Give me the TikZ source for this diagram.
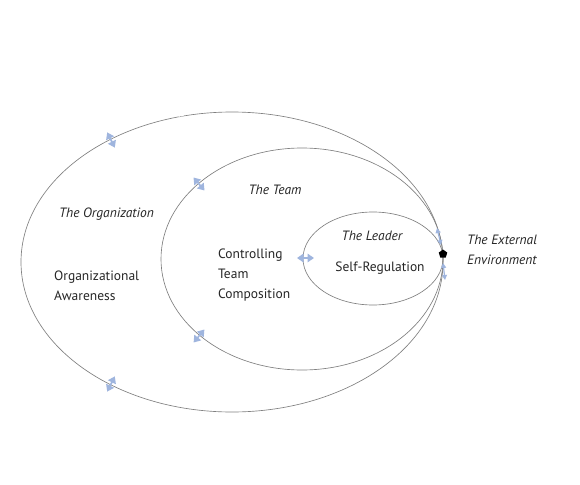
\documentclass[tikz,border=0pt]{standalone}
\usepackage{fontspec}
\setmainfont{PT Sans}
\usetikzlibrary{arrows.meta,shapes.geometric}
\definecolor{ringgray}{HTML}{808080}
\definecolor{arrowblue}{HTML}{9FB5DE}
\tikzset{
  ring/.style={draw=ringgray, line width=0.65pt},
  darrow/.style={draw=arrowblue, line width=1.6pt, {Triangle[width=8.5pt,length=6.5pt]}-{Triangle[width=8.5pt,length=6.5pt]}},
  smallarrow/.style={draw=arrowblue, line width=1.2pt, {Triangle[width=5pt,length=5pt]}-{Triangle[width=5pt,length=5pt]}},
  lbl/.style={font=\fontsize{13.5}{20}\selectfont, inner sep=0pt, text=black!85},
  ilbl/.style={font=\fontsize{13.5}{20}\selectfont\itshape, inner sep=0pt, text=black!85},
}
\begin{document}
\begin{tikzpicture}[x=1pt,y=-1pt]
\useasboundingbox (0,0) rectangle (580,484);
\fill[white] (0,0) rectangle (580,484);
% rings
\draw[ring] (232,262) ellipse [x radius=211, y radius=150];
\draw[white, line width=2.5pt] (178.5,115.4) -- (183.5,114.8);
\draw[ring] (302,259) ellipse [x radius=141, y radius=111];
\draw[ring] (373,258.5) ellipse [x radius=70, y radius=46.5];
% arrow end points
\coordinate (o1a) at (107.2,132.4); \coordinate (o1b) at (114.8,147.6);
\coordinate (o2a) at (107.2,391.6); \coordinate (o2b) at (114.8,376.4);
\coordinate (m1a) at (193.5,177.5); \coordinate (m1b) at (204.5,190.5);
\coordinate (m2a) at (193.6,342.5); \coordinate (m2b) at (204.4,329.5);
\coordinate (i1a) at (297,258);   \coordinate (i1b) at (314,258);
\coordinate (d1a) at (437,228);   \coordinate (d1b) at (441,245);
\coordinate (d2a) at (443,263);   \coordinate (d2b) at (445,280);
\draw[darrow] (o1a) -- (o1b);
\draw[darrow] (o2a) -- (o2b);
\draw[darrow] (m1a) -- (m1b);
\draw[darrow] (m2a) -- (m2b);
\draw[darrow] (i1a) -- (i1b);
\draw[smallarrow] (d1a) -- (d1b);
\draw[smallarrow] (d2a) -- (d2b);
% dot
\node[regular polygon, regular polygon sides=5, fill=black, minimum size=9pt, inner sep=0pt] (dot) at (443,254) {};
% labels
\node[ilbl] (org) at (106.5,214) {The Organization};
\node[lbl, align=left, anchor=west] (orgaw) at (54,286) {Organizational\\Awareness};
\node[ilbl] (team) at (275,190) {The Team};
\node[lbl, align=left, anchor=west] (ctc) at (218,275) {Controlling\\Team\\Composition};
\node[ilbl] (leader) at (372,236) {The Leader};
\node[lbl] (selfreg) at (380,268) {Self-Regulation};
\node[ilbl, align=left, anchor=west] (ext) at (467,250) {The External\\Environment};
\end{tikzpicture}
\end{document}
